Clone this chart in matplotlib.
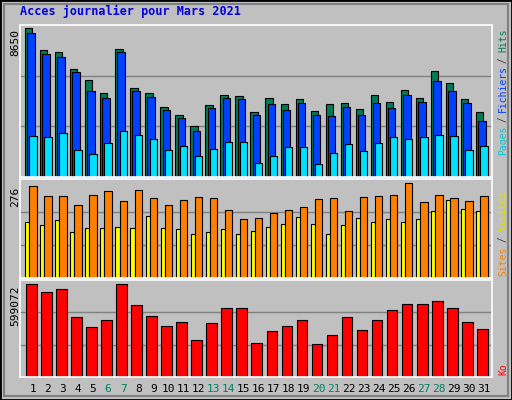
import matplotlib
matplotlib.use("Agg")
import matplotlib.pyplot as plt
import numpy as np

days = [str(d) for d in range(1, 32)]
weekend = {6, 7, 13, 14, 20, 21, 27, 28}
hits = [8650, 7358, 7241, 6243, 5656, 4893, 7417, 5186, 4893, 4071, 3601, 2955, 4188, 4775, 4716, 3777,
        4599, 4247, 4540, 3836, 4247, 4305, 3953, 4775, 4364, 5069, 4599, 6125, 5480, 4540, 3777]
files = [8356, 7124, 6947, 6067, 5010, 4599, 7241, 5010, 4658, 3894, 3425, 2662, 4012, 4599, 4540, 3601,
         4247, 3894, 4305, 3601, 3542, 4071, 3601, 4305, 4012, 4775, 4364, 5597, 5010, 4305, 3249]
pages = [2368, 2309, 2544, 1546, 1311, 1957, 2662, 2427, 2192, 1546, 1781, 1194, 1605, 2016, 2016, 841,
         1194, 1722, 1722, 783, 1370, 1898, 1487, 1957, 2309, 2192, 2309, 2427, 2368, 1546, 1781]
visits = [266, 239, 239, 212, 242, 251, 224, 254, 233, 212, 227, 236, 233, 197, 170, 173, 188, 197, 206,
          230, 233, 194, 236, 239, 242, 276, 221, 242, 233, 224, 239]
sites = [161, 155, 167, 134, 146, 146, 149, 146, 179, 146, 143, 128, 134, 143, 128, 137, 149, 158, 176,
         158, 128, 155, 173, 161, 170, 161, 170, 194, 227, 200, 194]
ko = [599072, 546400, 566150, 388410, 322580, 368660, 599072, 460820, 394990, 329160, 355490, 237000,
      348910, 441080, 441080, 217250, 296240, 329160, 368660, 210660, 269910, 388410, 302830, 368660,
      427910, 467410, 467410, 487160, 441080, 355490, 309410]

W, H = 512, 400
BG = "#C0C0C0"
fig = plt.figure(figsize=(W / 100, H / 100), dpi=100, facecolor=BG)
x = np.arange(31)
MONO = "DejaVu Sans Mono"

def panel(top, bottom):
    ax = fig.add_axes([20 / W, 1 - bottom / H, 472 / W, (bottom - top) / H])
    ax.set_facecolor(BG)
    ax.set_xlim(-0.33, 31.07)
    ax.set_xticks([]); ax.set_yticks([])
    for s in ax.spines.values():
        s.set_color("white"); s.set_linewidth(1.2)
    return ax

def grid(ax, top):
    for f in (1 / 3, 2 / 3):
        ax.axhline(top * f, color="#808080", lw=1, zorder=0)

kw = dict(align="edge", edgecolor="black", linewidth=0.8)
ax1 = panel(25, 177)
ax1.set_ylim(0, max(hits) * 1.02)
grid(ax1, max(hits) * 1.02)
ax1.bar(x, hits, 0.49, color="#007A55", **kw)
ax1.bar(x + 0.15, files, 0.5, color="#0040FF", **kw)
ax1.bar(x + 0.29, pages, 0.49, color="#00E0FF", **kw)

ax2 = panel(179, 278)
top2 = max(visits) * 1.04
ax2.set_ylim(0, top2)
grid(ax2, top2)
ax2.bar(x + 0.02, sites, 0.27, color="#FFFF00", **kw)
ax2.bar(x + 0.29, visits, 0.49, color="#FF8000", **kw)

ax3 = panel(280, 377)
top3 = max(ko) * 1.04
ax3.set_ylim(0, top3)
grid(ax3, top3)
ax3.bar(x + 0.07, ko, 0.71, color="#FF0000", **kw)

for i, d in enumerate(days):
    xp = (25 + 15.03 * (i + 0.53)) / W
    fig.text(xp, 1 - 389 / H, d, ha="center", va="center", fontsize=8, family=MONO,
             color="#008060" if (i + 1) in weekend else "black")

fig.text(20 / W, 1 - 11 / H, "Acces journalier pour Mars 2021", color="#0000E0", fontsize=8.5,
         family=MONO, weight="bold", va="center")
for y, lab in [(29, "8650"), (187, "276"), (285, "599072")]:
    fig.text(15 / W, 1 - y / H, lab, rotation=90, ha="center", va="top", fontsize=8, family=MONO)

def side(ybot, parts, step):
    y = ybot
    for txt, col in parts:
        fig.text(503 / W, 1 - y / H, txt, rotation=90, ha="center", va="bottom",
                 fontsize=7, family=MONO, color=col)
        y -= len(txt) * step

side(155, [("Pages", "#00C8E0"), (" / ", "#404040"), ("Fichiers", "#0040FF"),
           (" / ", "#404040"), ("Hits", "#007A55")], 5.4)
side(276, [("Sites", "#FF8000"), (" / ", "#404040"), ("Visites", "#E0E000")], 5.6)
side(375, [("Ko", "#FF0000")], 5.6)

fig.patches.append(plt.Rectangle((0, 0), 1, 1, transform=fig.transFigure, fill=False,
                                 edgecolor="black", linewidth=2))
fig.patches.append(plt.Rectangle((4 / W, 4 / H), 1 - 8 / W, 1 - 8 / H, transform=fig.transFigure,
                                 fill=False, edgecolor="#808080", linewidth=1.5))
fig.savefig("out.png", dpi=100, facecolor=BG)
